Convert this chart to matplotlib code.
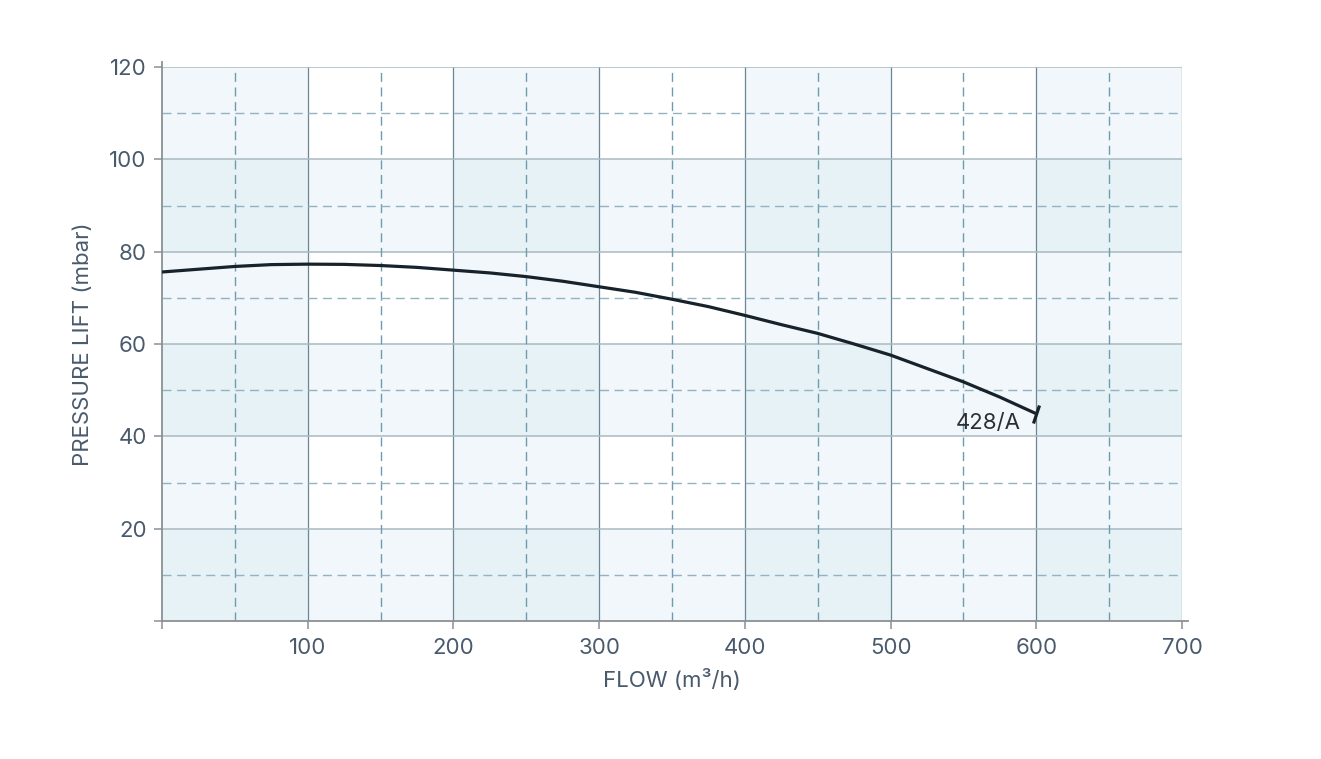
import matplotlib.pyplot as plt
import numpy as np
from matplotlib.markers import MarkerStyle
from matplotlib.transforms import Affine2D

flow = [0, 25, 50, 75, 100, 125, 150, 175, 200, 225, 250, 275, 300,
        325, 350, 375, 400, 425, 450, 475, 500, 525, 550, 575, 600]
pressure = [75.6, 76.2, 76.8, 77.2, 77.3, 77.25, 77.0, 76.6, 76.0, 75.4, 74.6, 73.6, 72.4,
            71.2, 69.7, 68.1, 66.2, 64.2, 62.3, 60.0, 57.6, 54.7, 51.8, 48.5, 44.9]
curve_label = '428/A'

x_ticks = [0, 100, 200, 300, 400, 500, 600, 700]
x_ticklabels = ['', '100', '200', '300', '400', '500', '600', '700']
y_ticks = [0, 20, 40, 60, 80, 100, 120]
y_ticklabels = ['', '20', '40', '60', '80', '100', '120']

TEXT = '#4a5a6d'
plt.rcParams['font.family'] = ['Inter', 'DejaVu Sans']

fig = plt.figure(figsize=(13.21, 7.59), dpi=100)
ax = fig.add_axes([0.1226, 0.1818, 0.7722, 0.7299])
ax.set_xlim(0, 700)
ax.set_ylim(0, 120)

# checkerboard shading: alternating column and row bands that overlap
band = '#d2e7f0'
for x0 in range(0, 700, 200):
    ax.axvspan(x0, x0 + 100, color=band, alpha=0.30, lw=0, zorder=0)
for y0 in range(0, 120, 40):
    ax.axhspan(y0, y0 + 20, color=band, alpha=0.30, lw=0, zorder=0)

# grid
for xv in np.arange(100, 701, 100):
    ax.axvline(xv, color='#6b8694', lw=0.9, zorder=1)
for yv in np.arange(20, 121, 20):
    ax.axhline(yv, color='#a9b9c1', lw=1.1, zorder=1)
for xv in np.arange(50, 700, 100):
    ax.axvline(xv, color='#6f9bb0', lw=1.0, ls=(0, (6.5, 4)), zorder=1)
for yv in np.arange(10, 120, 20):
    ax.axhline(yv, color='#93b3c3', lw=1.0, ls=(0, (6.5, 4)), zorder=1)

# curve and end marker
ax.plot(flow, pressure, color='#18222b', lw=2.3, zorder=3,
        solid_capstyle='butt', solid_joinstyle='round')
end_mark = MarkerStyle('|', transform=Affine2D().rotate_deg(-17))
ax.plot(flow[-1], pressure[-1], marker=end_mark, ms=14, mew=2.3,
        color='#18222b', zorder=3)
ax.annotate(curve_label, (flow[-1], pressure[-1]), xytext=(-11, -7),
            textcoords='offset points', ha='right', va='center',
            fontsize=16, color='#2a2f35')

# axes styling
for side in ['top', 'right']:
    ax.spines[side].set_visible(False)
for side in ['left', 'bottom']:
    ax.spines[side].set_color('#8a9095')
    ax.spines[side].set_linewidth(1.3)
ax.spines['left'].set_bounds(0, 121)
ax.spines['bottom'].set_bounds(0, 704)

ax.set_xticks(x_ticks)
ax.set_xticklabels(x_ticklabels)
ax.set_yticks(y_ticks)
ax.set_yticklabels(y_ticklabels)
ax.tick_params(axis='both', direction='out', length=6, width=1.1,
               color='#8a9095', labelcolor=TEXT, labelsize=16)
ax.tick_params(axis='x', pad=6)
ax.tick_params(axis='y', pad=5)

ax.set_xlabel('FLOW (m³/h)', fontsize=16, color=TEXT, labelpad=8)
ax.set_ylabel('PRESSURE LIFT (mbar)', fontsize=16, color=TEXT, labelpad=12)

fig.savefig('out.png', dpi=100)
